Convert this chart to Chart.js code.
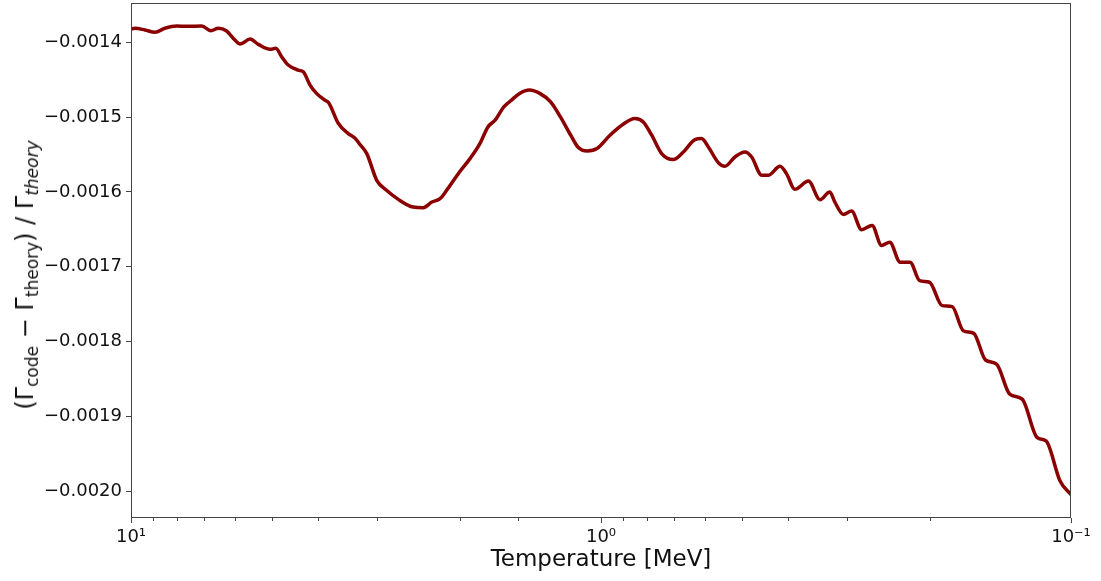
<!DOCTYPE html>
<html>
<head>
<meta charset="utf-8">
<script src="https://cdn.jsdelivr.net/npm/chart.js@4.4.1/dist/chart.umd.min.js"></script>
<style>
  html, body { margin: 0; padding: 0; background: #fff; }
  #wrap { position: relative; width: 1101px; height: 581px; }
  #ytitle {
    position: absolute;
    left: 25px;
    top: 275px;
    transform: translate(-50%, -50%) rotate(-90deg);
    white-space: nowrap;
    font-family: "DejaVu Sans", sans-serif;
    font-size: 24px;
    color: #111;
  }
  #ytitle sub { font-size: 17px; vertical-align: -5px; line-height: 0; }
  #ytitle .it { font-style: italic; }
</style>
</head>
<body>
<div id="wrap">
  <canvas id="chart" width="1101" height="581"></canvas>
  <div id="ytitle">(Γ<sub>code</sub> − Γ<sub>theory</sub>) / Γ<sub class="it">theory</sub></div>
</div>
<script>
// temperature in MeV (x, log axis, reversed)
const temps = [
  10, 9.81, 9.34, 8.89, 8.47, 7.99, 7.61, 7.07, 6.76, 6.52,
  6.26, 6.01, 5.86, 5.58, 5.36, 5.06, 4.92, 4.78, 4.63, 4.41,
  4.30, 4.16, 4.03, 3.87, 3.80, 3.62, 3.45, 3.34, 3.26, 3.15,
  3.00, 2.86, 2.70, 2.51, 2.39, 2.29, 2.20, 2.13, 2.00, 1.90,
  1.81, 1.74, 1.68, 1.61, 1.55, 1.49, 1.42, 1.35, 1.28, 1.22,
  1.16, 1.12, 1.07, 1.02, 0.957, 0.897, 0.847, 0.813, 0.780, 0.743,
  0.702, 0.668, 0.631, 0.611, 0.591, 0.563, 0.545, 0.519, 0.494, 0.478,
  0.455, 0.441, 0.416, 0.403, 0.387, 0.362, 0.342, 0.326, 0.318, 0.305,
  0.293, 0.279, 0.265, 0.253, 0.243, 0.231, 0.220, 0.210, 0.200, 0.188,
  0.179, 0.1695, 0.161, 0.152, 0.144, 0.135, 0.127, 0.118, 0.113, 0.1055,
  0.1
];

// (Γcode − Γtheory) / Γtheory
const ratios = [
  -0.0013822, -0.0013812, -0.0013835, -0.0013866, -0.0013812, -0.0013782, -0.0013786, -0.0013782, -0.0013845, -0.0013812,
  -0.0013849, -0.0013969, -0.0014023, -0.0013956, -0.0014027, -0.0014094, -0.0014080, -0.0014193, -0.0014304, -0.0014371,
  -0.0014394, -0.0014572, -0.0014683, -0.0014773, -0.0014804, -0.0015086, -0.0015220, -0.0015279, -0.0015363, -0.0015488,
  -0.0015845, -0.0015979, -0.0016100, -0.0016203, -0.0016211, -0.0016136, -0.0016091, -0.0015979, -0.0015734, -0.0015555,
  -0.0015354, -0.0015131, -0.0015041, -0.0014863, -0.0014773, -0.0014683, -0.0014639, -0.0014683, -0.0014796, -0.0014997,
  -0.0015242, -0.0015399, -0.0015453, -0.0015421, -0.0015242, -0.0015095, -0.0015019, -0.0015064, -0.0015242, -0.0015488,
  -0.0015568, -0.0015466, -0.0015300, -0.0015287, -0.0015399, -0.0015608, -0.0015658, -0.0015533, -0.0015466, -0.0015533,
  -0.0015778, -0.0015778, -0.0015658, -0.0015756, -0.0015966, -0.0015855, -0.0016104, -0.0016002, -0.0016136, -0.0016301,
  -0.0016257, -0.0016506, -0.0016448, -0.0016716, -0.0016672, -0.0016940, -0.0016940, -0.0017186, -0.0017208, -0.0017521,
  -0.0017534, -0.0017856, -0.0017892, -0.0018248, -0.0018302, -0.0018704, -0.0018771, -0.0019286, -0.0019330, -0.0019866,
  -0.0020050
];

const yTicks = [-0.0014, -0.0015, -0.0016, -0.0017, -0.0018, -0.0019, -0.0020];
const xMajor = { 10: "10¹", 1: "10⁰", 0.1: "10⁻¹" };

const FONT = "'DejaVu Sans', sans-serif";
const AXIS_COLOR = "#444";

// frame + log minor/major tick marks on the x axis
const framePlugin = {
  id: "frame",
  afterDatasetsDraw(chart) {
    const { ctx, chartArea: a, scales } = chart;
    ctx.save();
    ctx.strokeStyle = AXIS_COLOR;
    ctx.lineWidth = 1;
    ctx.strokeRect(a.left + 0.5, a.top + 0.5, a.right - a.left - 1, a.bottom - a.top - 1);
    scales.x.ticks.forEach((t) => {
      const px = Math.round(scales.x.getPixelForValue(t.value)) + 0.5;
      const major = Math.abs(Math.log10(t.value) - Math.round(Math.log10(t.value))) < 1e-6;
      ctx.beginPath();
      ctx.moveTo(px, a.bottom);
      ctx.lineTo(px, a.bottom + (major ? 5 : 3));
      ctx.stroke();
    });
    ctx.restore();
  },
};

new Chart(document.getElementById("chart"), {
  type: "line",
  data: {
    datasets: [
      {
        data: temps.map((t, i) => ({ x: t, y: ratios[i] })),
        borderColor: "#8b0000",
        borderWidth: 3.5,
        pointRadius: 0,
        fill: false,
        cubicInterpolationMode: "monotone",
      },
    ],
  },
  options: {
    responsive: false,
    animation: false,
    layout: { padding: { top: 3, right: 30, bottom: 0, left: 0 } },
    plugins: {
      legend: { display: false },
      tooltip: { enabled: false },
    },
    scales: {
      x: {
        type: "logarithmic",
        reverse: true,
        min: 0.1,
        max: 10,
        border: { display: false },
        grid: { drawOnChartArea: false, drawTicks: false },
        ticks: {
          autoSkip: false,
          maxRotation: 0,
          padding: 9,
          color: "#111",
          font: { family: FONT, size: 18 },
          callback: (v) => xMajor[Number(v.toPrecision(6))] || "",
        },
        title: {
          display: true,
          text: "Temperature [MeV]",
          color: "#111",
          font: { family: FONT, size: 23 },
          padding: { top: 0, bottom: 7 },
        },
        afterFit: (s) => { s.height = 63; },
      },
      y: {
        min: -0.0020361,
        max: -0.0013474,
        border: { display: false },
        grid: { drawOnChartArea: false, tickLength: 5, color: AXIS_COLOR },
        ticks: {
          padding: 4,
          color: "#111",
          font: { family: FONT, size: 18 },
          callback: (v) => "−" + Math.abs(v).toFixed(4),
        },
        afterBuildTicks: (s) => { s.ticks = yTicks.map((v) => ({ value: v })); },
        afterFit: (s) => {
          s.width = 131;
          s.paddingTop = 0;
          s.paddingBottom = 0;
        },
      },
    },
  },
  plugins: [framePlugin],
});
</script>
</body>
</html>
